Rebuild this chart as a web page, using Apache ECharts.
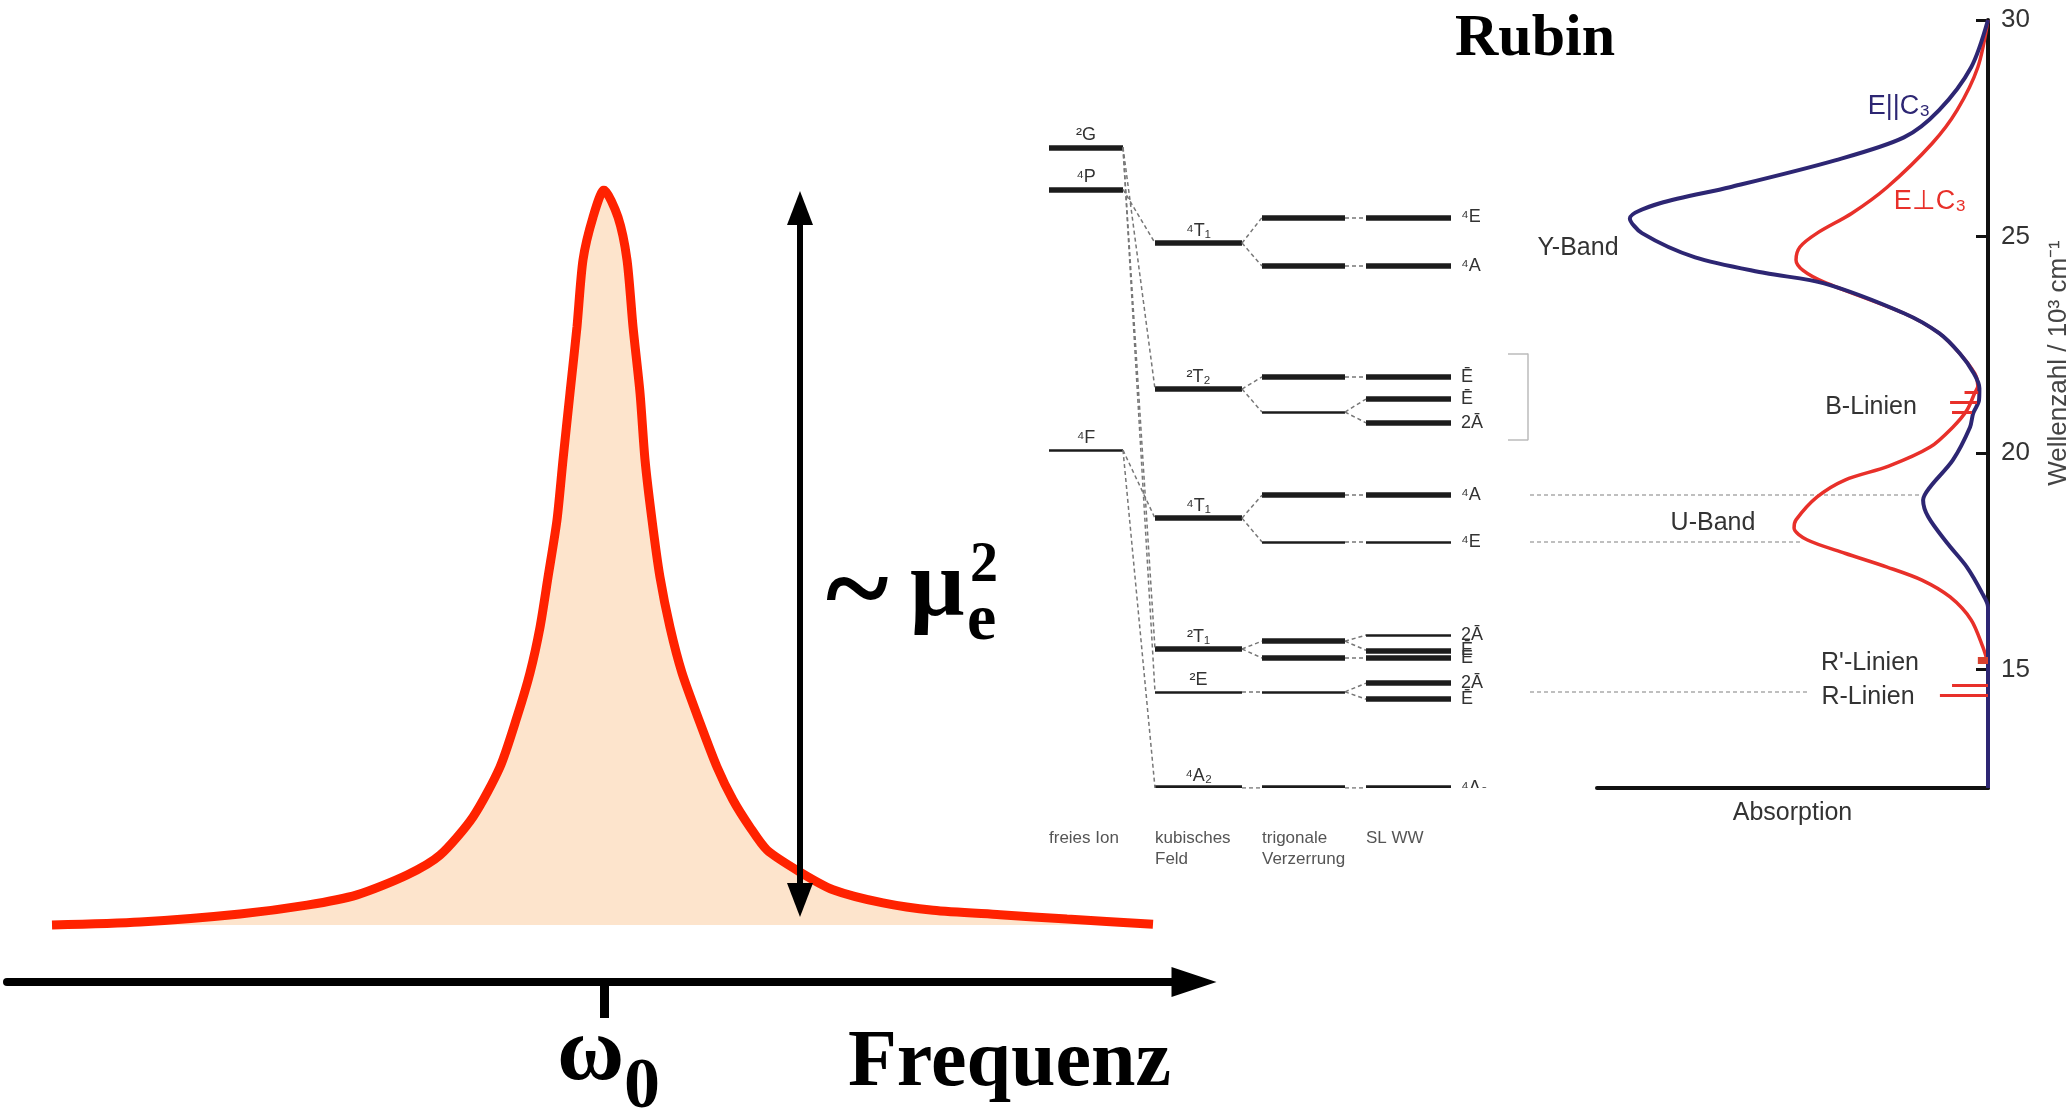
<!DOCTYPE html>
<html>
<head>
<meta charset="utf-8">
<title>Lorentz-Linie und Rubin</title>
<script src="https://cdn.jsdelivr.net/npm/echarts@6/dist/echarts.min.js"></script>
<style>
  html, body { margin: 0; padding: 0; background: #fff; }
  #main { width: 2068px; height: 1117px; }
</style>
</head>
<body>
<div id="main"></div>
<script>
// left: resonance line, frequency offset from w0 (in line widths) and intensity (% of peak)
var lorentzFreq = [-11.04, -9.28, -7.28, -5.94, -4.94, -3.94, -3.28, -2.62, -2.08, -1.74, -1.48, -1.28, -1.12, -0.94,
  -0.82, -0.68, -0.54, -0.42, -0.22, 0, 0.28, 0.46, 0.58, 0.72, 0.82, 0.96, 1.12, 1.32, 1.56, 1.92, 2.26, 2.58,
  2.92, 3.26, 3.92, 4.58, 5.58, 6.58, 7.92, 9.26, 10.98];
var lorentzInt = [0, 0.4, 1.5, 2.7, 4.1, 6.8, 9.5, 14.7, 21.5, 28.3, 34.3, 40.5, 47.3, 55.1,
  63.3, 72.4, 81.4, 90.5, 96.3, 100, 96.3, 90.5, 81.4, 72.4, 63.3, 55.1, 47.3, 40.5, 34.3, 27.5, 21.5, 17.0,
  13.3, 10.2, 7.2, 4.8, 3.0, 2.0, 1.4, 0.8, 0.1];
var arrowAt = 3.92;          // position of the double arrow (line widths)
var arrowSpan = [3.4, 97.55];

// right: ruby absorption, wavenumber in 10^3 cm^-1, absorption in % of axis length
var blueWave = [30, 28.91, 27.92, 27.29, 26.76, 26.14, 25.77, 25.42, 25.08, 24.52, 24.16, 23.92, 23.23, 22.77,
  22.30, 21.84, 21.50, 21.22, 20.92, 20.60, 19.84, 19.22, 18.92, 18.53, 17.93, 17.37, 16.77, 16.45, 12.27];
var blueAbs = [0, 4.3, 12.5, 21.5, 39.1, 66.0, 83.9, 91.6, 88.5, 74.9, 57.0, 41.9, 21.5, 12.5,
  7.2, 3.6, 2.2, 2.3, 3.8, 4.6, 9.0, 14.8, 16.6, 15.3, 10.5, 5.4, 1.5, 0, 0];
var redWave = [30, 28.91, 27.92, 27.15, 26.14, 25.54, 25.08, 24.76, 24.46, 24.22, 23.95, 23.23, 22.77, 22.30,
  21.84, 21.55, 21.39, 20.99, 20.60, 20.14, 19.70, 19.38, 18.99, 18.46, 18.27, 18.00, 17.69, 17.37, 17.07,
  16.68, 16.15, 15.52, 15.15];
var redAbs = [0, 2.6, 7.9, 14.3, 25.8, 34.8, 43.7, 48.1, 49.1, 47.3, 41.9, 21.5, 12.5, 7.2,
  3.4, 2.6, 3.4, 5.4, 9.0, 14.8, 25.4, 36.6, 43.7, 49.1, 49.6, 46.3, 36.6, 25.8, 16.9,
  9.7, 4.3, 1.3, 0];
// sharp lines: [wavenumber, absorption from, absorption to]
var bLinien = [[21.41, 2.5, 6.0], [21.18, 2.8, 9.7], [20.95, 4.1, 9.2]];
var rStrichLinien = [[15.22, 0, 2.6]];
var rLinien = [[14.65, 0, 9.2], [14.40, 0, 12.3]];
var waveTicks = [15, 20, 25, 30];

// level scheme (10^3 cm^-1), parent = index in the previous column
var freeIon = [27.06, 26.09, 20.07];
var freeIonTerms = ['²G', '⁴P', '⁴F'];
var cubic = [24.85, 21.48, 18.50, 15.48, 14.49, 12.27];
var cubicTerms = ['⁴T₁', '²T₂', '⁴T₁', '²T₁', '²E', '⁴A₂'];
var cubicParent = [1, 0, 2, 0, 0, 2];
var trigonal = [25.44, 24.32, 21.76, 20.95, 19.03, 17.95, 15.66, 15.27, 14.49, 12.27];
var trigonalParent = [0, 0, 1, 1, 2, 2, 3, 3, 4, 5];
var spinOrbit = [25.44, 24.32, 21.76, 21.25, 20.70, 19.03, 17.95, 15.80, 15.45, 15.27, 14.69, 14.32, 12.27];
var spinOrbitParent = [0, 1, 2, 3, 3, 4, 5, 6, 6, 7, 8, 8, 9];
var spinOrbitTerms = ['⁴E', '⁴A', 'Ē', 'Ē', '2Ā', '⁴A', '⁴E', '2Ā', 'Ē', 'Ē', '2Ā', 'Ē', '⁴A₂'];
var stageNames = ['freies Ion', 'kubisches\nFeld', 'trigonale\nVerzerrung', 'SL WW'];
var guideLevels = [19.03, 17.95, 14.49];

// layout (diagram x units: 10 px each)
var WMIN = 12.27, WMAX = 30;
var SPAN = { free: [0.9, 8.3], cubic: [11.5, 20.2], trig: [22.2, 30.5], so: [32.6, 41.1] };
var THIN = { free: [2], cubic: [4], trig: [3, 5, 8], so: [6, 7] };
var guideEnd = [88.2, 76.3, 76.7];

var SERIF = '"Liberation Serif", "Times New Roman", serif';
var SANS = '"Liberation Sans", Arial, sans-serif';

function lbl(text, position, distance) {
  return { show: true, position: position, formatter: text, distance: distance,
    fontSize: 18, color: '#333', fontFamily: SANS };
}
function lvl(span, e, thin, label) {
  return { coords: [[span[0], e], [span[1], e]], lineStyle: { width: thin ? 2.5 : 5.5 }, label: label };
}
function link(x0, e0, x1, e1) {
  return { coords: [[x0, e0], [x1, e1]] };
}

var levels = [], links = [];
freeIon.forEach(function (e, i) {
  levels.push(lvl(SPAN.free, e, THIN.free.indexOf(i) >= 0, lbl(freeIonTerms[i], 'insideMiddleTop', 3)));
});
cubic.forEach(function (e, i) {
  levels.push(lvl(SPAN.cubic, e, THIN.cubic.indexOf(i) >= 0, lbl(cubicTerms[i], 'insideMiddleTop', 3)));
  links.push(link(SPAN.free[1], freeIon[cubicParent[i]], SPAN.cubic[0], e));
});
trigonal.forEach(function (e, i) {
  levels.push(lvl(SPAN.trig, e, THIN.trig.indexOf(i) >= 0, { show: false }));
  links.push(link(SPAN.cubic[1], cubic[trigonalParent[i]], SPAN.trig[0], e));
});
spinOrbit.forEach(function (e, i) {
  levels.push(lvl(SPAN.so, e, THIN.so.indexOf(i) >= 0, lbl(spinOrbitTerms[i], 'end', 10)));
  links.push(link(SPAN.trig[1], trigonal[spinOrbitParent[i]], SPAN.so[0], e));
});
var guides = guideLevels.map(function (e, i) { return link(49, e, guideEnd[i], e); });
var bracket = [link(48.8, 22.3, 48.8, 20.3), link(46.8, 22.3, 48.8, 22.3), link(46.8, 20.3, 48.8, 20.3)];

function hLines(list) {
  return list.map(function (l) { return { coords: [[l[1], l[0]], [l[2], l[0]]] }; });
}
function zip(xs, ys) { return xs.map(function (x, i) { return [x, ys[i]]; }); }

function txt(x, y, text, size, opts) {
  opts = opts || {};
  return {
    type: 'text', x: x, y: y, rotation: opts.rotation || 0, z: 100,
    style: {
      text: text, fontSize: size, fontFamily: opts.family || SANS, fontWeight: opts.weight || 'normal',
      fill: opts.color || '#333', align: opts.align || 'center', verticalAlign: 'middle'
    }
  };
}

var chart = echarts.init(document.getElementById('main'));
var option = {
  animation: false,
  backgroundColor: '#fff',
  grid: [
    { left: 7, top: 190, width: 1187, height: 792 },
    { left: 1597, right: 80, top: 20, bottom: 329 },
    { left: 1040, right: 80, top: 20, bottom: 329 }
  ],
  xAxis: [
    {
      gridIndex: 0, type: 'value', min: -11.94, max: 11.8,
      axisLine: { show: true, onZero: false, symbol: ['none', 'triangle'], symbolSize: [30, 45],
        lineStyle: { color: '#000', width: 8 } },
      axisTick: { show: true, customValues: [0], length: 36, lineStyle: { color: '#000', width: 9 } },
      axisLabel: { show: false }, splitLine: { show: false }
    },
    {
      gridIndex: 1, type: 'value', min: 0, max: 100, inverse: true,
      axisLine: { show: true, onZero: false, lineStyle: { color: '#111', width: 4 } },
      axisTick: { show: false }, axisLabel: { show: false }, splitLine: { show: false },
      name: 'Absorption', nameLocation: 'middle', nameGap: 13,
      nameTextStyle: { fontSize: 25, color: '#333', fontFamily: SANS }
    },
    {
      gridIndex: 2, type: 'value', min: 0, max: 94.8,
      axisLine: { show: false }, axisTick: { show: false }, splitLine: { show: false },
      axisLabel: {
        show: true, customValues: [SPAN.free[0], SPAN.cubic[0], SPAN.trig[0], SPAN.so[0]],
        formatter: function (v) {
          var starts = [SPAN.free[0], SPAN.cubic[0], SPAN.trig[0], SPAN.so[0]];
          return stageNames[starts.indexOf(v)];
        },
        align: 'left', verticalAlign: 'top', margin: 40, fontSize: 17, lineHeight: 21,
        color: '#555', fontFamily: SANS
      }
    }
  ],
  yAxis: [
    { gridIndex: 0, type: 'value', min: -7.76, max: 100, show: false },
    {
      gridIndex: 1, type: 'value', min: WMIN, max: WMAX, position: 'right',
      axisLine: { show: true, onZero: false, lineStyle: { color: '#111', width: 4 } },
      axisTick: { show: true, inside: true, customValues: waveTicks, length: 12, lineStyle: { color: '#111', width: 3 } },
      axisLabel: { show: true, customValues: waveTicks, margin: 13, fontSize: 26, color: '#333', fontFamily: SANS },
      splitLine: { show: false }
    },
    { gridIndex: 2, type: 'value', min: WMIN, max: WMAX, show: false }
  ],
  series: [
    {
      name: 'Lorentz', type: 'line', xAxisIndex: 0, yAxisIndex: 0,
      data: zip(lorentzFreq, lorentzInt), showSymbol: false, smooth: 0.25,
      lineStyle: { color: '#ff2200', width: 9 },
      areaStyle: { color: '#fde4cc', opacity: 1 },
      markLine: {
        silent: true, symbol: ['triangle', 'triangle'], symbolSize: [26, 34],
        lineStyle: { color: '#000', width: 6, type: 'solid' }, label: { show: false },
        data: [[{ coord: [arrowAt, arrowSpan[0]] }, { coord: [arrowAt, arrowSpan[1]] }]]
      }
    },
    {
      name: 'E||C3', type: 'line', xAxisIndex: 1, yAxisIndex: 1, z: 4,
      data: zip(blueAbs, blueWave), showSymbol: false, smooth: 0.3,
      lineStyle: { color: '#2d2673', width: 4 }
    },
    {
      name: 'E⊥C3', type: 'line', xAxisIndex: 1, yAxisIndex: 1, z: 3,
      data: zip(redAbs, redWave), showSymbol: false, smooth: 0.3,
      lineStyle: { color: '#e8302a', width: 3.5 }
    },
    {
      name: 'Linien', type: 'lines', coordinateSystem: 'cartesian2d', xAxisIndex: 1, yAxisIndex: 1, z: 5,
      data: hLines(bLinien).concat(hLines(rLinien)),
      lineStyle: { color: '#e8302a', width: 3, opacity: 1 }
    },
    {
      name: 'R-Strich', type: 'lines', coordinateSystem: 'cartesian2d', xAxisIndex: 1, yAxisIndex: 1, z: 5,
      data: hLines(rStrichLinien),
      lineStyle: { color: '#d8402e', width: 7, opacity: 1 }
    },
    {
      name: 'Niveaus', type: 'lines', coordinateSystem: 'cartesian2d', xAxisIndex: 2, yAxisIndex: 2,
      data: levels,
      lineStyle: { color: '#1c1c1c', opacity: 1 }
    },
    {
      name: 'Korrelation', type: 'lines', coordinateSystem: 'cartesian2d', xAxisIndex: 2, yAxisIndex: 2,
      data: links,
      lineStyle: { color: '#777', width: 1.5, type: [4, 3], opacity: 1 }
    },
    {
      name: 'Hilfslinien', type: 'lines', coordinateSystem: 'cartesian2d', xAxisIndex: 2, yAxisIndex: 2,
      data: guides,
      lineStyle: { color: '#aaa', width: 1.5, type: [4, 3], opacity: 1 }
    },
    {
      name: 'Klammer', type: 'lines', coordinateSystem: 'cartesian2d', xAxisIndex: 2, yAxisIndex: 2,
      data: bracket,
      lineStyle: { color: '#bbb', width: 1.5, opacity: 1 }
    }
  ],
  graphic: [
    txt(826, 597, '~', 120, { family: SERIF, weight: 'bold', color: '#000', align: 'left' }),
    txt(910, 590, 'μ', 96, { family: SERIF, weight: 'bold', color: '#000', align: 'left' }),
    txt(970, 567, '2', 56, { family: SERIF, weight: 'bold', color: '#000', align: 'left' }),
    txt(967, 622, 'e', 66, { family: SERIF, weight: 'bold', color: '#000', align: 'left' }),
    txt(557, 1055, 'ω', 92, { family: SERIF, weight: 'bold', color: '#000', align: 'left' }),
    txt(624, 1088, '0', 72, { family: SERIF, weight: 'bold', color: '#000', align: 'left' }),
    txt(848, 1064, 'Frequenz', 80, { family: SERIF, weight: 'bold', color: '#000', align: 'left' }),
    txt(1455, 39, 'Rubin', 60, { family: SERIF, weight: 'bold', color: '#000', align: 'left' }),
    txt(1899, 107, 'E||C₃', 27, { color: '#2d2673' }),
    txt(1930, 202, 'E⊥C₃', 27, { color: '#e8302a' }),
    txt(1578, 248, 'Y-Band', 25),
    txt(1871, 407, 'B-Linien', 25),
    txt(1713, 523, 'U-Band', 25),
    txt(1870, 663, "R'-Linien", 25),
    txt(1868, 697, 'R-Linien', 25),
    txt(2059, 363, 'Wellenzahl / 10³ cm⁻¹', 26, { rotation: Math.PI / 2, color: '#444' })
  ]
};
chart.setOption(option);
</script>
</body>
</html>
